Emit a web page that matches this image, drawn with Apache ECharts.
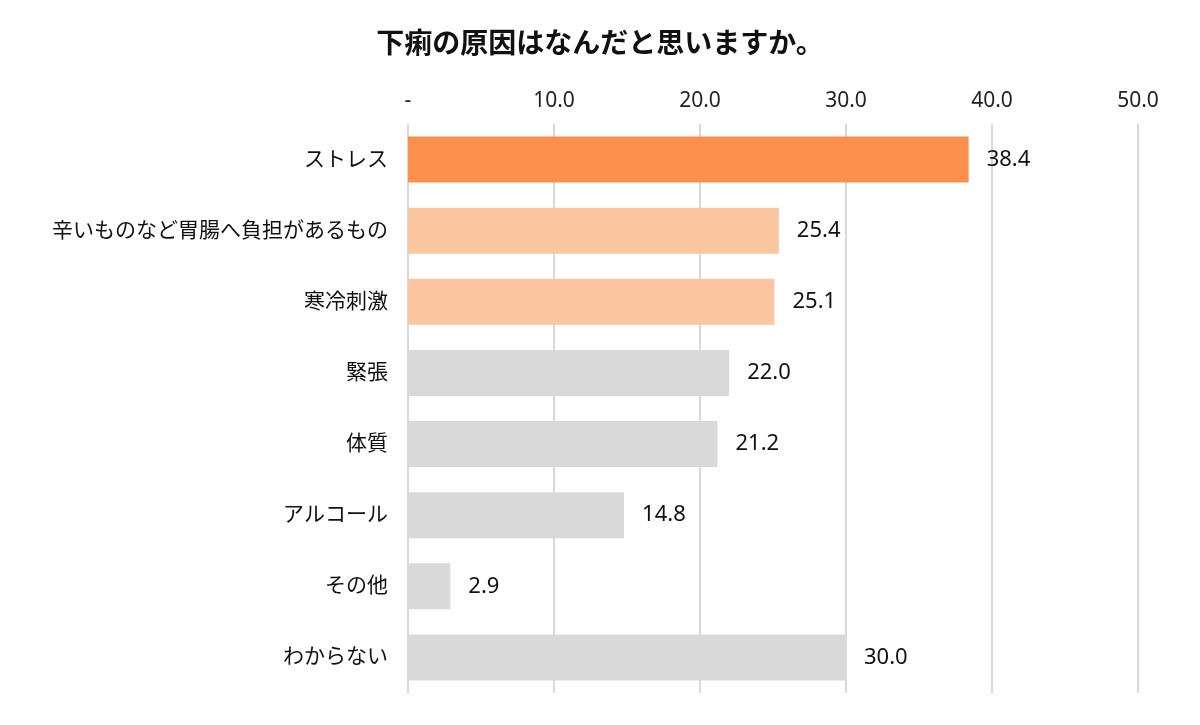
<!DOCTYPE html>
<html><head><meta charset="utf-8">
<script src="https://cdn.jsdelivr.net/npm/echarts@6/dist/echarts.min.js"></script>
<style>body{margin:0}#c{width:1200px;height:725px}</style></head>
<body><div id="c"></div>
<script>
const categories=["ストレス","辛いものなど胃腸へ負担があるもの","寒冷刺激","緊張","体質","アルコール","その他","わからない"];
const values=[38.4,25.4,25.1,22.0,21.2,14.8,2.9,30.0];
const colors=["#FB8F4C","#FCC6A1","#FCC6A1","#D9D9D9","#D9D9D9","#D9D9D9","#D9D9D9","#D9D9D9"];
const font='"Noto Sans","Noto Sans CJK JP",sans-serif';
const chart=echarts.init(document.getElementById('c'));
chart.setOption({
 title:{text:"下痢の原因はなんだと思いますか。",left:'center',top:26,textStyle:{fontSize:28,fontWeight:'bold',color:'#111',fontFamily:font}},
 grid:{left:408,right:62,top:124,bottom:32},
 xAxis:{type:'value',position:'top',min:0,max:50,interval:10,
  axisLabel:{fontSize:21,color:'#222',fontFamily:font,margin:12,formatter:v=>v===0?'-':v.toFixed(1)},
  splitLine:{lineStyle:{color:'#D9D9D9',width:2}},axisLine:{show:false},axisTick:{show:false}},
 yAxis:{type:'category',inverse:true,data:categories,
  axisLabel:{fontSize:21,color:'#111',fontFamily:font,margin:20},
  axisLine:{show:false},axisTick:{show:false}},
 series:[{type:'bar',barWidth:46,
  data:values.map((v,i)=>({value:v,itemStyle:{color:colors[i]}})),
  label:{show:true,position:'right',distance:18,fontSize:22,color:'#111',fontFamily:font,formatter:p=>p.value.toFixed(1)}}]
});
</script></body></html>
